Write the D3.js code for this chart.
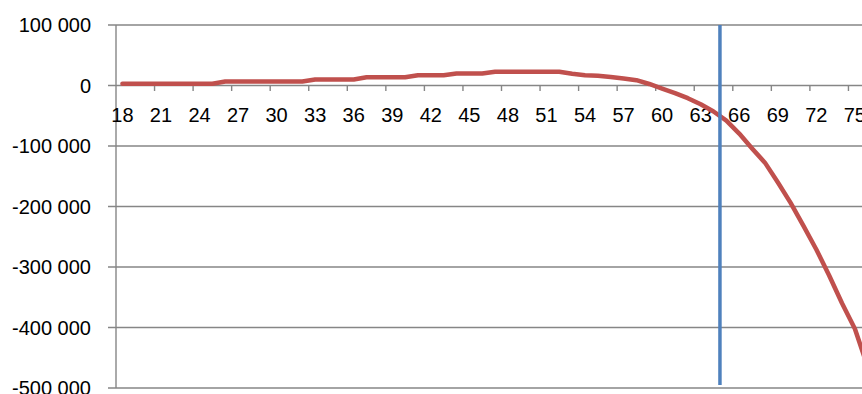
<!DOCTYPE html>
<html>
<head>
<meta charset="utf-8">
<script src="https://cdn.jsdelivr.net/npm/d3@7/dist/d3.min.js"></script>
<style>
  html, body { margin: 0; padding: 0; background: #ffffff; overflow: hidden; }
  svg { display: block; }
  text { font-family: "Liberation Sans", Arial, sans-serif; fill: #000; }
</style>
</head>
<body>
<svg id="chart" width="862" height="394"></svg>
<script>
// ---- data ----
const ages = [18,19,20,21,22,23,24,25,26,27,28,29,30,31,32,33,34,35,36,37,38,39,40,41,42,43,44,45,46,47,
              48,49,50,51,52,53,54,55,56,57,58,59,60,61,62,63,64,65,66,67,68,69,70,71,72,73,74,75,76];
const values = [3000,3000,3000,3000,3000,3000,3000,3000,
                6600,6600,6600,6600,6600,6600,6600,
                10000,10000,10000,10000,
                13500,13500,13500,13500,
                17000,17000,17000,
                20000,20000,20000,
                22800,22800,22800,22800,22800,22800,
                19500,17000,16000,14000,11500,8800,2500,
                -5000,-12500,-21000,-31000,-43000,-58000,-79500,-104000,-127500,
                -160000,-194000,-232000,-271000,-314000,-360000,-402000,-465000];
const yTicks = [100000, 0, -100000, -200000, -300000, -400000, -500000];
const xLabelAges = [18,21,24,27,30,33,36,39,42,45,48,51,54,57,60,63,66,69,72,75];
const markerAge = 65;               // vertical marker sits at the start of this category
const markerRange = [100000, -495000];

// ---- layout ----
const svg = d3.select("#chart");
const plotLeft = 116, plotTop = 25, plotBottom = 388, catW = 12.85;

const x = d3.scaleBand().domain(ages).range([plotLeft, plotLeft + ages.length * catW]).padding(0);
const y = d3.scaleLinear().domain([-500000, 100000]).range([plotBottom, plotTop]);

const loc = d3.formatLocale({decimal: ",", thousands: " ", grouping: [3], currency: ["", ""], minus: "-"});
const fmt = loc.format(",d");

// gridlines + y tick marks
svg.append("g").selectAll("line").data(yTicks).join("line")
  .attr("x1", plotLeft - 8).attr("x2", 862)
  .attr("y1", d => y(d)).attr("y2", d => y(d))
  .attr("stroke", "#868686").attr("stroke-width", 1.4);

// vertical axis line
svg.append("line")
  .attr("x1", plotLeft).attr("x2", plotLeft)
  .attr("y1", y(100000)).attr("y2", y(-500000))
  .attr("stroke", "#868686").attr("stroke-width", 1.4);

// y labels
svg.append("g").selectAll("text").data(yTicks).join("text")
  .attr("x", 91).attr("y", d => y(d))
  .attr("text-anchor", "end").attr("dominant-baseline", "central")
  .attr("font-size", 20)
  .text(d => fmt(d));

// x tick marks (category boundaries every 3 categories)
svg.append("g").selectAll("line").data(xLabelAges).join("line")
  .attr("x1", d => x(d) + 3 * catW).attr("x2", d => x(d) + 3 * catW)
  .attr("y1", y(0)).attr("y2", y(0) + 5.5)
  .attr("stroke", "#868686").attr("stroke-width", 1.4);

// x labels
svg.append("g").selectAll("text").data(xLabelAges).join("text")
  .attr("x", d => x(d) + x.bandwidth() / 2).attr("y", 122)
  .attr("text-anchor", "middle")
  .attr("font-size", 20)
  .text(d => d);

// red line
const line = d3.line()
  .x((d, i) => x(ages[i]) + x.bandwidth() / 2)
  .y(d => y(d));
svg.append("path").datum(values)
  .attr("d", line)
  .attr("fill", "none").attr("stroke", "#C0504D")
  .attr("stroke-width", 4.5).attr("stroke-linejoin", "round").attr("stroke-linecap", "round");

// blue vertical marker
svg.append("line")
  .attr("x1", x(markerAge)).attr("x2", x(markerAge))
  .attr("y1", y(markerRange[0])).attr("y2", y(markerRange[1]))
  .attr("stroke", "#4F81BD").attr("stroke-width", 3.5);
</script>
</body>
</html>
